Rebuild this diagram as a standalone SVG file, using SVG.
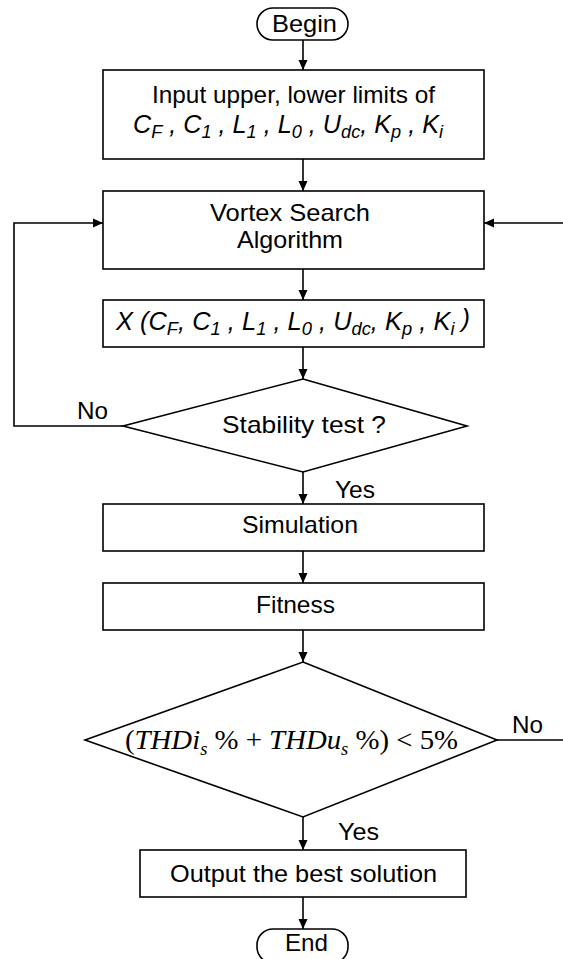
<svg xmlns="http://www.w3.org/2000/svg" width="563" height="959" viewBox="0 0 563 959">
  <style>
    .shape { fill: #fff; stroke: #000; stroke-width: 1.6; }
    .wire { fill: none; stroke: #000; stroke-width: 1.6; }
    .lbl { font-family: "Liberation Sans", Arial, sans-serif; font-size: 24px; fill: #000; }
    .math { font-family: "Liberation Sans", Arial, sans-serif; font-size: 25px; font-style: italic; fill: #000; }
    .sub { font-size: 18px; }
    .tm { font-family: "Liberation Serif", "Times New Roman", serif; font-size: 28px; fill: #000; }
    .tmi { font-style: italic; }
    .tsub { font-size: 18px; }
  </style>
  <defs>
    <marker id="arrow" viewBox="0 0 10 10" refX="10" refY="5" markerWidth="10" markerHeight="10" markerUnits="userSpaceOnUse" orient="auto">
      <path d="M0,0.5 L10,5 L0,9.5 Z" fill="#000"/>
    </marker>
  </defs>

  <!-- connectors -->
  <g id="connectors">
    <path class="wire" d="M303,40 V70" marker-end="url(#arrow)"/>
    <path class="wire" d="M303,159 V191" marker-end="url(#arrow)"/>
    <path class="wire" d="M303,269 V300" marker-end="url(#arrow)"/>
    <path class="wire" d="M303,347 V379" marker-end="url(#arrow)"/>
    <path class="wire" d="M303,472 V504" marker-end="url(#arrow)"/>
    <path class="wire" d="M303,551 V583" marker-end="url(#arrow)"/>
    <path class="wire" d="M303,630 V662" marker-end="url(#arrow)"/>
    <path class="wire" d="M303,817 V850" marker-end="url(#arrow)"/>
    <path class="wire" d="M303,897 V929" marker-end="url(#arrow)"/>
    <!-- stability "No" loop back to the search -->
    <path class="wire" d="M123,426 H14 V223 H103" marker-end="url(#arrow)"/>
    <!-- THD "No" loop back to the search, running along the right edge -->
    <path class="wire" d="M497,740 H564 V223 H484" marker-end="url(#arrow)"/>
    <text class="lbl" x="77" y="419" textLength="31" lengthAdjust="spacingAndGlyphs">No</text>
    <text class="lbl" x="335" y="498" textLength="40" lengthAdjust="spacingAndGlyphs">Yes</text>
    <text class="lbl" x="512" y="733" textLength="31" lengthAdjust="spacingAndGlyphs">No</text>
    <text class="lbl" x="338" y="840" textLength="41" lengthAdjust="spacingAndGlyphs">Yes</text>
  </g>

  <g id="begin">
    <rect class="shape" x="257" y="8" width="91" height="32" rx="16"/>
    <text class="lbl" x="304.5" y="32" text-anchor="middle" textLength="65" lengthAdjust="spacingAndGlyphs">Begin</text>
  </g>

  <g id="input">
    <rect class="shape" x="103" y="70" width="381" height="89"/>
    <text class="lbl" x="293.5" y="103" text-anchor="middle" textLength="283" lengthAdjust="spacingAndGlyphs">Input upper, lower limits of</text>
    <text class="math" x="133" y="133" textLength="310" lengthAdjust="spacingAndGlyphs">C<tspan class="sub" dy="5">F</tspan><tspan dy="-5"> , C</tspan><tspan class="sub" dy="5">1</tspan><tspan dy="-5"> , L</tspan><tspan class="sub" dy="5">1</tspan><tspan dy="-5"> ,  L</tspan><tspan class="sub" dy="5">0</tspan><tspan dy="-5"> , U</tspan><tspan class="sub" dy="5">dc</tspan><tspan dy="-5">, K</tspan><tspan class="sub" dy="5">p</tspan><tspan dy="-5"> , K</tspan><tspan class="sub" dy="5">i</tspan></text>
  </g>

  <g id="vortex-search">
    <rect class="shape" x="103" y="191" width="381" height="78"/>
    <text class="lbl" x="290" y="221" text-anchor="middle" textLength="160" lengthAdjust="spacingAndGlyphs">Vortex Search</text>
    <text class="lbl" x="290" y="248" text-anchor="middle" textLength="106" lengthAdjust="spacingAndGlyphs">Algorithm</text>
  </g>

  <g id="candidate">
    <rect class="shape" x="103" y="300" width="381" height="47"/>
    <text class="math" x="116" y="330" textLength="354" lengthAdjust="spacingAndGlyphs">X (C<tspan class="sub" dy="5">F</tspan><tspan dy="-5">, C</tspan><tspan class="sub" dy="5">1</tspan><tspan dy="-5"> , L</tspan><tspan class="sub" dy="5">1</tspan><tspan dy="-5"> ,  L</tspan><tspan class="sub" dy="5">0</tspan><tspan dy="-5"> , U</tspan><tspan class="sub" dy="5">dc</tspan><tspan dy="-5">, K</tspan><tspan class="sub" dy="5">p</tspan><tspan dy="-5"> , K</tspan><tspan class="sub" dy="5">i</tspan><tspan dy="-8"> )</tspan></text>
  </g>

  <g id="stability-test">
    <polygon class="shape" points="303,379 467,426 303,472 123,426"/>
    <text class="lbl" x="222" y="433" textLength="164" lengthAdjust="spacingAndGlyphs">Stability test  ?</text>
  </g>

  <g id="simulation">
    <rect class="shape" x="103" y="504" width="381" height="47"/>
    <text class="lbl" x="300" y="533" text-anchor="middle" textLength="116" lengthAdjust="spacingAndGlyphs">Simulation</text>
  </g>

  <g id="fitness">
    <rect class="shape" x="103" y="583" width="381" height="47"/>
    <text class="lbl" x="295.5" y="613" text-anchor="middle" textLength="79" lengthAdjust="spacingAndGlyphs">Fitness</text>
  </g>

  <g id="thd-check">
    <polygon class="shape" points="303,662 497,740 303,817 85,740"/>
    <text class="tm" x="125" y="749" textLength="333" lengthAdjust="spacingAndGlyphs">(<tspan class="tmi">THDi</tspan><tspan class="tmi tsub" dy="6">s</tspan><tspan dy="-6"> % + </tspan><tspan class="tmi">THDu</tspan><tspan class="tmi tsub" dy="6">s</tspan><tspan dy="-6"> %) &lt; 5%</tspan></text>
  </g>

  <g id="output">
    <rect class="shape" x="140" y="850" width="326" height="47"/>
    <text class="lbl" x="303.5" y="882" text-anchor="middle" textLength="267" lengthAdjust="spacingAndGlyphs">Output the best solution</text>
  </g>

  <g id="end">
    <rect class="shape" x="257" y="929" width="91" height="34" rx="16"/>
    <text class="lbl" x="306.5" y="951" text-anchor="middle" textLength="43" lengthAdjust="spacingAndGlyphs">End</text>
  </g>
</svg>
